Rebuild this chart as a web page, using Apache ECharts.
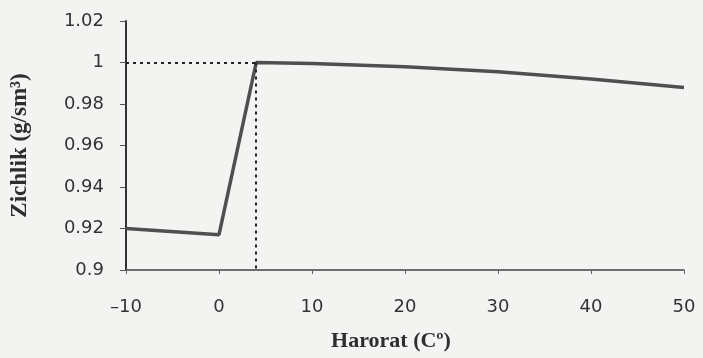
<!DOCTYPE html>
<html>
<head>
<meta charset="utf-8">
<script src="https://cdn.jsdelivr.net/npm/echarts@6/dist/echarts.min.js"></script>
<style>
  html, body { margin: 0; padding: 0; background: #f3f3f1; }
  #chart { width: 703px; height: 358px; }
</style>
</head>
<body>
<div id="chart"></div>
<script>
// harorat (C) va zichlik (g/sm3)
var temps = [-10, 0, 4, 10, 20, 30, 40, 50];
var density = [0.92, 0.917, 1.0, 0.9995, 0.998, 0.9955, 0.992, 0.988];
var peak = [4, 1.0];
var xTicks = [-10, 50, 10];      // min, max, step
var yTicks = [0.9, 1.02, 0.02];

var chart = echarts.init(document.getElementById('chart'));

var points = temps.map(function (t, i) { return [t, density[i]]; });

var option = {
  backgroundColor: '#f3f3f1',
  animation: false,
  grid: { left: 126, right: 19, top: 21, bottom: 88 },
  xAxis: {
    type: 'value',
    min: xTicks[0], max: xTicks[1], interval: xTicks[2],
    name: 'Harorat (C\u00ba)',
    nameLocation: 'middle',
    nameGap: 60,
    nameTextStyle: { fontFamily: 'Liberation Serif', fontWeight: 'bold', fontSize: 22, color: '#2e2e2e', padding: [0, 28, 0, 0] },
    axisLine: { onZero: false, lineStyle: { color: '#444', width: 1.5 } },
    axisTick: { show: true, length: 4, lineStyle: { color: '#666' } },
    axisLabel: {
      fontFamily: 'DejaVu Sans', fontSize: 18, color: '#333', margin: 28,
      formatter: function (v) { return String(v).replace('-', '\u2013'); }
    },
    splitLine: { show: false }
  },
  yAxis: {
    type: 'value',
    min: yTicks[0], max: yTicks[1], interval: yTicks[2],
    name: 'Zichlik (g/sm\u00b3)',
    nameLocation: 'middle',
    nameGap: 94,
    nameTextStyle: { fontFamily: 'Liberation Serif', fontWeight: 'bold', fontSize: 23, color: '#2e2e2e' },
    axisLine: { show: true, onZero: false, lineStyle: { color: '#333', width: 2 } },
    axisTick: { show: true, length: 6, lineStyle: { color: '#555' } },
    axisLabel: { fontFamily: 'DejaVu Sans', fontSize: 18, color: '#333', margin: 22 },
    splitLine: { show: false }
  },
  series: [{
    type: 'line',
    data: points,
    symbol: 'none',
    smooth: false,
    lineStyle: { color: '#4f4f4f', width: 3.5 },
    markLine: {
      silent: true,
      symbol: 'none',
      label: { show: false },
      lineStyle: { color: '#222', type: [3, 4], width: 2 },
      data: [
        [{ coord: [xTicks[0], peak[1]] }, { coord: [peak[0], peak[1]] }],
        [{ coord: [peak[0], peak[1]] }, { coord: [peak[0], yTicks[0]] }]
      ]
    }
  }]
};

chart.setOption(option);
</script>
</body>
</html>
